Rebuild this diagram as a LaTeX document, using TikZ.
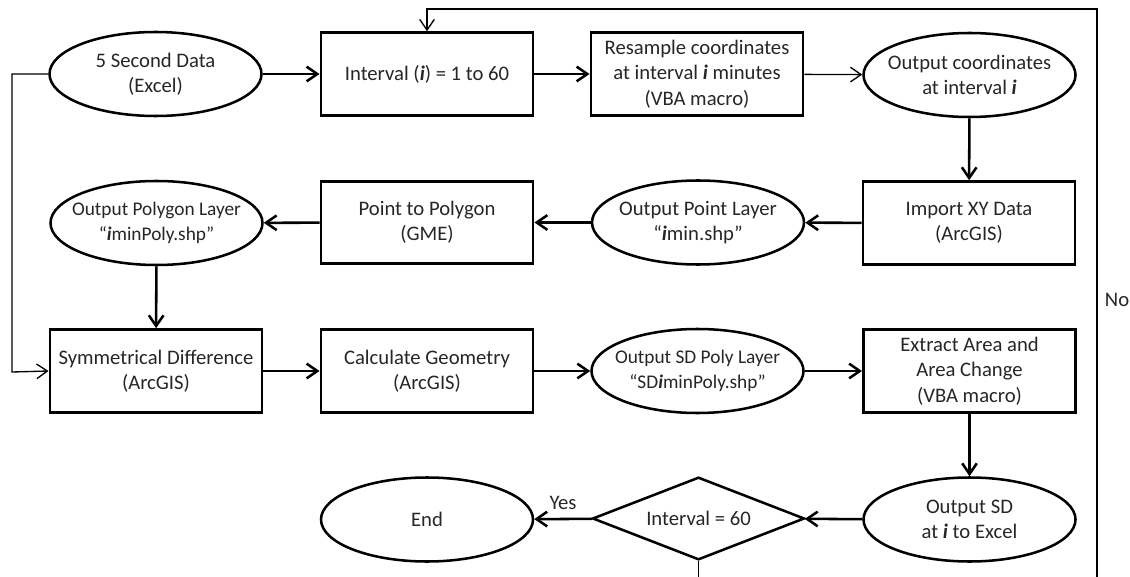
\documentclass[tikz,border=0pt]{standalone}
\usepackage{fontspec}
\setmainfont{Carlito}
\usetikzlibrary{shapes.geometric,arrows.meta}
\definecolor{inkgray}{gray}{0.15}
\newcommand{\iv}{\textbf{\textit{i}}}
\newcommand{\smallertext}{\fontsize{14.5}{19}\selectfont}
\begin{document}
\begin{tikzpicture}[x=0.75pt,y=-0.75pt,
  every label/.style={align=center, text=inkgray, font=\fontsize{15.5}{19}\selectfont, inner sep=0pt},
  boxnode/.style={draw, rectangle, line width=2.2pt, minimum width=159pt, minimum height=62pt, inner sep=0pt},
  ovalnode/.style={draw, ellipse, line width=1.9pt, minimum width=159pt, minimum height=63pt, inner sep=0pt},
  decide/.style={draw, diamond, line width=1.9pt, minimum width=159pt, minimum height=62pt, inner sep=0pt},
  flow/.style={line width=1.9pt, -{Straight Barb[length=8pt,width=11pt]}},
  thinflow/.style={line width=1pt, -{Straight Barb[length=8pt,width=11pt]}},
  tag/.style={text=inkgray, font=\fontsize{15.5}{19}\selectfont, inner sep=0pt}]
\useasboundingbox (0,0) rectangle (1130,577);
\clip (0,0) rectangle (1130,577);

% first row
\node[ovalnode, label=center:{5 Second Data\\(Excel)}] (sec5) at (155.5,74) {};
\node[boxnode, label=center:{Interval (\iv) = 1 to 60}] (interval) at (427,74) {};
\node[boxnode, label=center:{Resample coordinates\\at interval \iv{} minutes\\(VBA macro)}] (resample) at (697,74) {};
\node[ovalnode, label=center:{Output coordinates\\at interval \iv}] (outcoord) at (969.5,75) {};

% second row
\node[boxnode, label=center:{Import XY Data\\(ArcGIS)}] (import) at (969,223) {};
\node[ovalnode, label=center:{Output Point Layer\\“\iv min.shp”}] (outpoint) at (698,222.5) {};
\node[boxnode, label=center:{Point to Polygon\\(GME)}] (p2p) at (427,222.5) {};
\node[ovalnode, label={[font=\smallertext]center:{Output Polygon Layer\\“\iv minPoly.shp”}}] (outpoly) at (156.5,223) {};

% third row
\node[boxnode, label=center:{Symmetrical Difference\\(ArcGIS)}] (symdiff) at (156,371) {};
\node[boxnode, label=center:{Calculate Geometry\\(ArcGIS)}] (calc) at (427,371) {};
\node[ovalnode, label={[font=\smallertext]center:{Output SD Poly Layer\\“SD\iv minPoly.shp”}}] (sdpoly) at (697.5,371) {};
\node[boxnode, label=center:{Extract Area and\\Area Change\\(VBA macro)}] (extract) at (969.5,371) {};

% fourth row
\node[ovalnode, label=center:{Output SD\\at \iv{} to Excel}] (outsd) at (969.5,519.5) {};
\node[decide, label=center:{Interval = 60}] (check) at (698.5,518.5) {};
\node[ovalnode, label=center:{End}] (finish) at (427,519.5) {};

% connectors
\draw[flow] (sec5) -- (interval);
\draw[flow] (interval) -- (resample);
\draw[thinflow] (resample) -- (outcoord);
\draw[flow] (outcoord) -- (import);
\draw[flow] (import) -- (outpoint);
\draw[flow] (outpoint) -- (p2p);
\draw[flow] (p2p) -- (outpoly);
\draw[flow] (outpoly) -- (symdiff);
\draw[flow] (symdiff) -- (calc);
\draw[flow] (calc) -- (sdpoly);
\draw[flow] (sdpoly) -- (extract);
\draw[flow] (extract) -- (outsd);
\draw[flow] (outsd) -- (check);
\draw[flow] (check) -- (finish);
\node[tag] (yes) at (563,503) {Yes};

% raw data also feeds the symmetrical difference
\coordinate (feedA) at (12,74);
\coordinate (feedB) at (12,372);
\draw[thinflow] (sec5.west) -- (feedA) -- (feedB) -- (symdiff.west);

% loop back to the next interval
\coordinate (loopA) at (698.5,600);
\coordinate (loopB) at (1097,600);
\coordinate (loopC) at (1097,9);
\coordinate (loopD) at (427,9);
\draw[thinflow] (check.south) -- (loopA) -- (loopB) -- (loopC) -- (loopD) -- (interval.north);
\node[tag] (no) at (1117,300) {No};
\end{tikzpicture}
\end{document}
